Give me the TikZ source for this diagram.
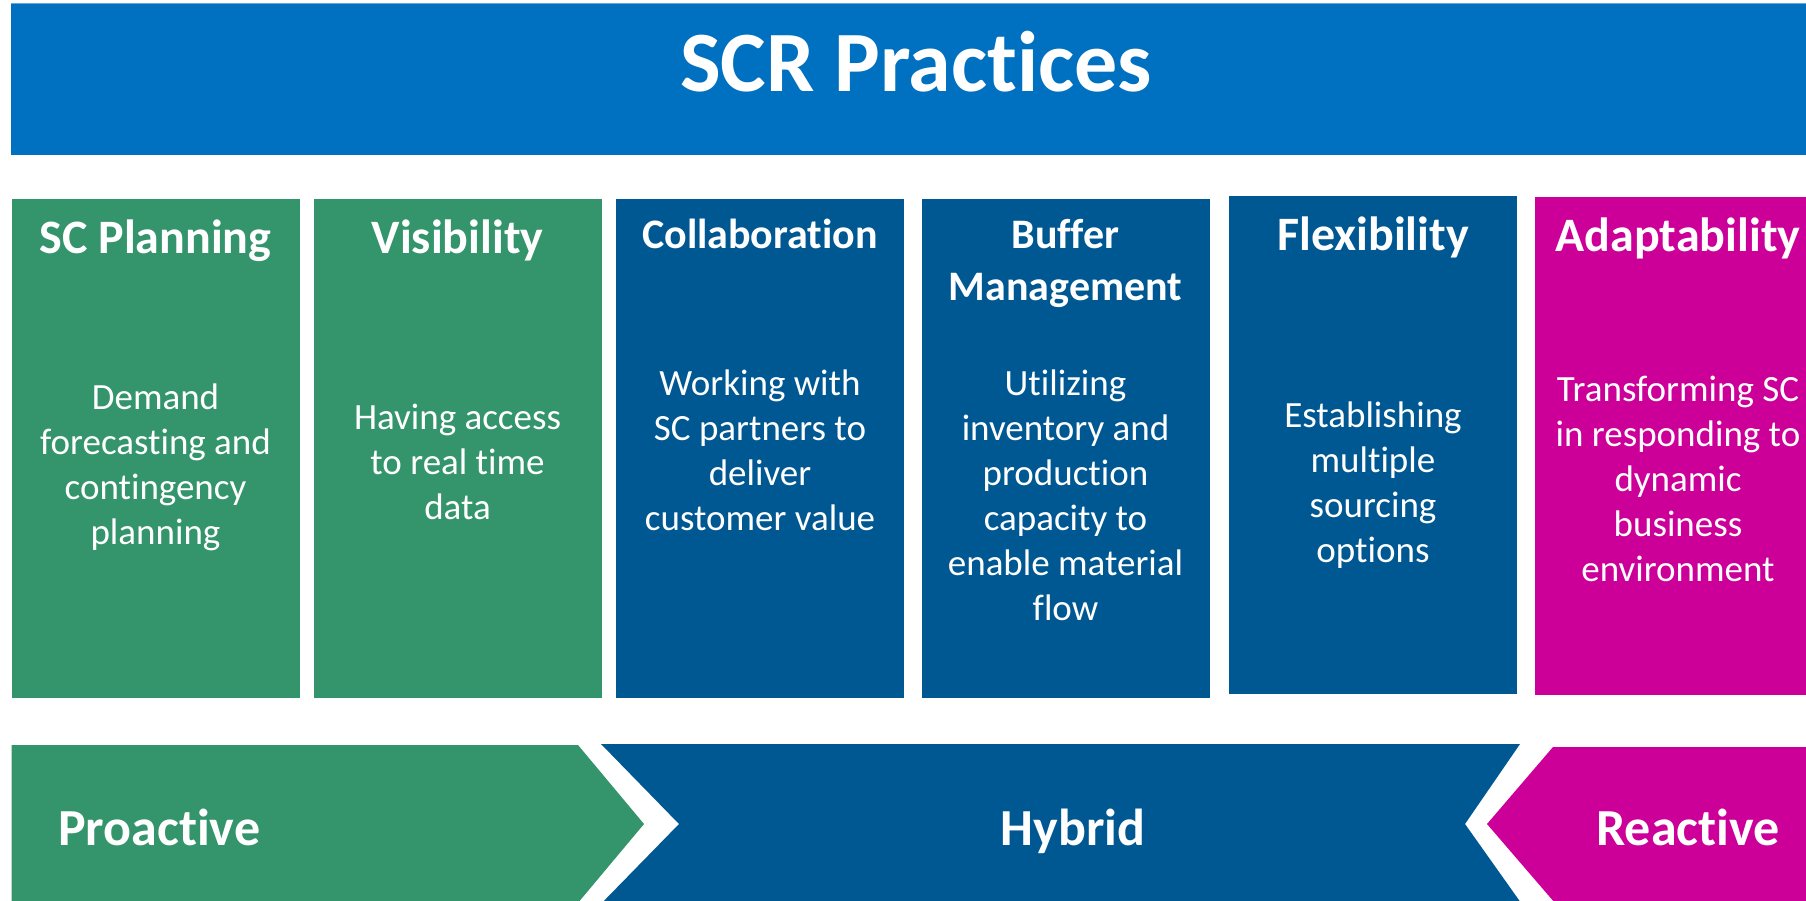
\documentclass[tikz,border=0pt]{standalone}
\usepackage{fontspec}
\setmainfont{Carlito}[Ligatures=NoCommon]
\definecolor{bannerblue}{RGB}{0,112,192}
\definecolor{scgreen}{RGB}{52,149,108}
\definecolor{scblue}{RGB}{0,88,147}
\definecolor{scmag}{RGB}{204,0,153}
\begin{document}
\begin{tikzpicture}[x=1pt,y=-1pt,
  title/.style={font=\fontsize{86}{100}\selectfont\bfseries, text=white, anchor=base, inner sep=0pt},
  hd/.style={font=\fontsize{48}{58}\selectfont\bfseries, text=white, anchor=base, inner sep=0pt},
  hds/.style={font=\fontsize{42}{51}\selectfont\bfseries, text=white, anchor=base, inner sep=0pt},
  bd/.style={font=\fontsize{37}{45}\selectfont, text=white, anchor=base, inner sep=0pt},
  arr/.style={font=\fontsize{52}{62}\selectfont\bfseries, text=white, anchor=base, inner sep=0pt}]
\useasboundingbox (0,0) rectangle (1806,901);
\clip (0,0) rectangle (1806,901);
\fill[white] (0,0) rectangle (1806,901);
% banner
\fill[bannerblue] (11,3.5) rectangle (1830,155);
\draw[line width=1pt, bannerblue!60!white] (11,3.5) -- (1830,3.5);
\node[title] (ttl) at (916,92) {SCR Practices};
% columns
\fill[scgreen] (11.5,199) rectangle (299.5,698);
\fill[scgreen] (314,199) rectangle (601.5,698);
\fill[scblue] (616,199) rectangle (904,698);
\fill[scblue] (921.5,199) rectangle (1209.5,698);
\fill[scblue] (1229,196) rectangle (1517,694);
\fill[scmag] (1535,197) rectangle (1830,695);
% headers
\node[hd] (h1) at (155.5,254) {SC Planning};
\node[hd] (h2) at (457.5,254) {Visibility};
\node[hds] (h3) at (760,249) {Collaboration};
\node[hds] (h4a) at (1065.5,249) {Buffer};
\node[hds] (h4b) at (1065.5,300) {Management};
\node[hd] (h5) at (1373,251) {Flexibility};
\node[hd] (h6) at (1678,252) {Adaptability};
% bodies
\foreach \t [count=\i] in {Demand, forecasting and, contingency, planning}
  \node[bd] (b1-\i) at (155.5,{409+45*(\i-1)}) {\t};
\foreach \t [count=\i] in {Having access, to real time, data}
  \node[bd] (b2-\i) at (457.5,{429+45*(\i-1)}) {\t};
\foreach \t [count=\i] in {Working with, SC partners to, deliver, customer value}
  \node[bd] (b3-\i) at (760,{395+45*(\i-1)}) {\t};
\foreach \t [count=\i] in {Utilizing, inventory and, production, capacity to, enable material, flow}
  \node[bd] (b4-\i) at (1065.5,{395+45*(\i-1)}) {\t};
\foreach \t [count=\i] in {Establishing, multiple, sourcing, options}
  \node[bd] (b5-\i) at (1373,{427+45*(\i-1)}) {\t};
\foreach \t [count=\i] in {Transforming SC, in responding to, dynamic, business, environment}
  \node[bd] (b6-\i) at (1678,{401+45*(\i-1)}) {\t};
% bottom chevrons
\fill[scgreen] (11.5,745) -- (578,745) -- (644,824) -- (572,910) -- (11.5,910) -- cycle;
\fill[scblue] (601,744) -- (1520,744) -- (1465,824) -- (1526,910) -- (595,910) -- (679,824) -- cycle;
\fill[scmag] (1487,824) -- (1553,747) -- (1830,747) -- (1830,910) -- (1561,910) -- cycle;
\node[arr, anchor=base west] (pro) at (58,845) {Proactive};
\node[arr] (hyb) at (1073,845) {Hybrid};
\node[arr] (rea) at (1688,845) {Reactive};
\end{tikzpicture}
\end{document}
